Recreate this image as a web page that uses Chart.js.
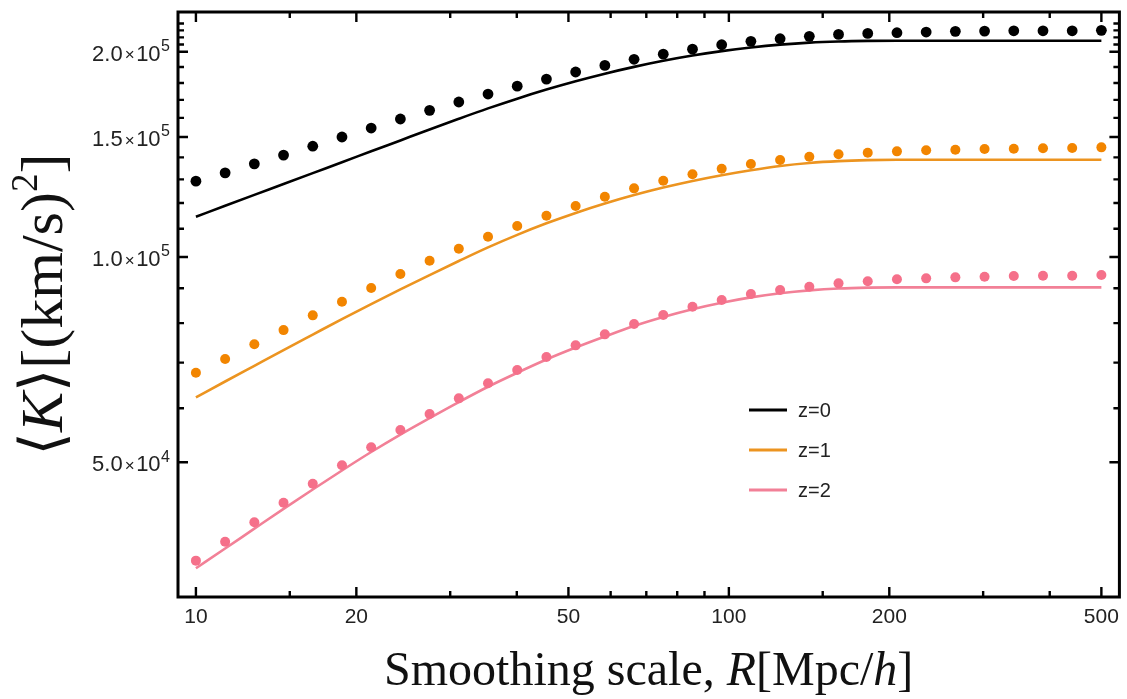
<!DOCTYPE html>
<html>
<head>
<meta charset="utf-8">
<script src="https://cdn.jsdelivr.net/npm/chart.js@4.4.1/dist/chart.umd.min.js"></script>
<style>
body { margin: 0; background: #fff; }
</style>
</head>
<body>
<canvas id="myChart" width="1127" height="699"></canvas>
<script>
// smoothing scale R [Mpc/h]
var rValues = [10, 11.345, 12.871, 14.602, 16.567, 18.795, 21.323, 24.191, 27.445, 31.137,
  35.325, 40.076, 45.467, 51.583, 58.521, 66.392, 75.323, 85.454, 96.948, 109.99,
  124.78, 141.57, 160.61, 182.21, 206.72, 234.53, 266.07, 301.86, 342.46, 388.53, 440.79, 500];

// <K> data points
var k0Dots = [129200, 132900, 137000, 141100, 145400, 150000, 154600, 159400, 164100, 168800,
  173400, 178100, 182400, 186800, 191000, 195000, 198400, 201800, 204800, 207200,
  209000, 210700, 212100, 212800, 213300, 213800, 214300, 214500, 214700, 214700, 214700, 215000];
var k1Dots = [67650, 70860, 74470, 78140, 82130, 85990, 90060, 94420, 98760, 102840,
  107100, 111040, 114970, 118790, 122560, 126100, 129390, 132230, 134750, 136900,
  138750, 140320, 141460, 142210, 142890, 143390, 143670, 144020, 144180, 144360, 144500, 144840];
var k2Dots = [35870, 38240, 40830, 43620, 46520, 49500, 52600, 55760, 58850, 62050,
  65280, 68270, 71340, 74210, 77020, 79770, 82220, 84550, 86480, 88250,
  89460, 90460, 91500, 92130, 92750, 93060, 93370, 93570, 93780, 93880, 93880, 94100];

// <K> theory curves
var k0Line = [114580, 118890, 123350, 127970, 132770, 137750, 142910, 148270, 153830, 159500,
  165200, 170730, 176040, 181060, 185750, 190070, 194010, 197480, 200450, 202910,
  204880, 206300, 207110, 207490, 207590, 207590, 207590, 207590, 207590, 207590, 207590, 207590];
var k1Line = [62260, 65690, 69270, 73040, 76970, 81100, 85310, 89660, 94100, 98670,
  103320, 107790, 112060, 116070, 119810, 123280, 126440, 129300, 131850, 134090,
  136020, 137400, 138260, 138710, 138870, 138870, 138870, 138870, 138870, 138870, 138870, 138870];
var k2Line = [34960, 37370, 39960, 42720, 45610, 48640, 51770, 54920, 58050, 61280,
  64540, 67650, 70750, 73660, 76460, 79220, 81660, 83840, 85700, 87260,
  88470, 89350, 89930, 90200, 90280, 90280, 90280, 90280, 90280, 90280, 90280, 90280];

var seriesLabels = ["z=0", "z=1", "z=2"];
var lineColors = ["#000000", "#ec9420", "#f28097"];
var dotColors = ["#000000", "#f28500", "#f5708a"];

// ticks
var xTicks = [10, 15, 20, 30, 40, 50, 60, 70, 80, 90, 100, 150, 200, 300, 400, 500];
var xMajor = [10, 20, 50, 100, 200, 500];
var yTicks = [50000, 60000, 70000, 80000, 90000, 100000, 110000, 120000, 130000, 140000, 150000,
  160000, 170000, 180000, 190000, 200000, 205000, 210000, 215000, 220000];
var yMajor = [50000, 100000, 150000, 200000];
var yMantissa = ["5.0", "1.0", "1.5", "2.0"];
var yExponent = ["4", "5", "5", "5"];

var SANS = '"Liberation Sans", Arial, sans-serif';
var SERIF = '"Liberation Serif", "DejaVu Serif", serif';

function pts(ys) {
  return rValues.map(function(r, i) { return { x: r, y: ys[i] }; });
}

var datasets = [];
[k0Line, k1Line, k2Line].forEach(function(s, i) {
  datasets.push({
    label: seriesLabels[i], data: pts(s), showLine: true,
    borderColor: lineColors[i], borderWidth: 2.6, pointRadius: 0,
    cubicInterpolationMode: 'monotone', order: 1
  });
});
[k0Dots, k1Dots, k2Dots].forEach(function(s, i) {
  datasets.push({
    label: seriesLabels[i] + ' data', data: pts(s), showLine: false,
    backgroundColor: dotColors[i], borderWidth: 0, pointRadius: i == 0 ? 5.4 : 5, order: 0
  });
});

// inward ticks + frame box
var frameTicks = {
  id: 'frameTicks',
  afterDatasetsDraw: function(chart) {
    var ctx = chart.ctx, a = chart.chartArea, x = chart.scales.x, y = chart.scales.y;
    ctx.save();
    ctx.strokeStyle = '#000';
    ctx.lineWidth = 2.4;
    ctx.beginPath();
    xTicks.forEach(function(v) {
      var p = x.getPixelForValue(v), len = xMajor.indexOf(v) >= 0 ? 10 : 6;
      ctx.moveTo(p, a.bottom); ctx.lineTo(p, a.bottom - len);
      ctx.moveTo(p, a.top); ctx.lineTo(p, a.top + len);
    });
    yTicks.forEach(function(v) {
      var p = y.getPixelForValue(v), len = yMajor.indexOf(v) >= 0 ? 10 : 6;
      ctx.moveTo(a.left, p); ctx.lineTo(a.left + len, p);
      ctx.moveTo(a.right, p); ctx.lineTo(a.right - len, p);
    });
    ctx.stroke();
    ctx.lineWidth = 3;
    ctx.strokeRect(a.left, a.top, a.right - a.left, a.bottom - a.top);
    ctx.restore();
  }
};

function runFont(r, size) {
  var s = r.sup ? size * 0.62 : size;
  return (r.it ? 'italic ' : '') + s + 'px ' + SERIF;
}
function runWidth(ctx, runs, size) {
  var w = 0;
  runs.forEach(function(r) { ctx.font = runFont(r, size); w += ctx.measureText(r.t).width; });
  return w;
}
function drawRuns(ctx, runs, size, x, y) {
  runs.forEach(function(r) {
    ctx.font = runFont(r, size);
    ctx.fillText(r.t, x, r.sup ? y - size * 0.42 : y);
    x += ctx.measureText(r.t).width;
  });
}

var xTitle = [{ t: 'Smoothing scale, ' }, { t: 'R', it: true }, { t: '[Mpc/' }, { t: 'h', it: true }, { t: ']' }];
var yTitle = [{ t: '\u27E8' }, { t: 'K', it: true }, { t: '\u27E9[(km/s)' }, { t: '2', sup: true }, { t: ']' }];

var labelsAndTitles = {
  id: 'labelsAndTitles',
  afterDraw: function(chart) {
    var ctx = chart.ctx, a = chart.chartArea, y = chart.scales.y;
    ctx.save();
    ctx.fillStyle = '#222';
    ctx.textBaseline = 'middle';
    ctx.textAlign = 'right';
    // y tick labels like 2.0×10^5
    yMajor.forEach(function(v, i) {
      var py = y.getPixelForValue(v) + 3;
      var xr = a.left - 8;
      ctx.font = '16px ' + SANS;
      ctx.fillText(yExponent[i], xr, py - 8);
      xr -= ctx.measureText(yExponent[i]).width + 0.5;
      ctx.font = '22px ' + SANS;
      ctx.fillText('10', xr, py);
      xr -= ctx.measureText('10').width + 1.5;
      ctx.font = '17px ' + SANS;
      ctx.fillText('\u00D7', xr, py + 1);
      xr -= ctx.measureText('\u00D7').width + 2;
      ctx.font = '22px ' + SANS;
      ctx.fillText(yMantissa[i], xr, py);
    });

    // legend
    var lineSets = chart.data.datasets.filter(function(d) { return d.showLine; });
    ctx.textAlign = 'left';
    ctx.font = '20px ' + SANS;
    lineSets.forEach(function(d, i) {
      var ry = a.top + 398 + i * 40;
      ctx.strokeStyle = d.borderColor;
      ctx.lineWidth = 3;
      ctx.beginPath();
      ctx.moveTo(a.left + 571, ry); ctx.lineTo(a.left + 609, ry);
      ctx.stroke();
      ctx.fillStyle = '#222';
      ctx.fillText(d.label, a.left + 620, ry + 1);
    });

    // axis titles
    ctx.fillStyle = '#111';
    ctx.textAlign = 'left';
    ctx.textBaseline = 'alphabetic';
    var xs = 48;
    var w = runWidth(ctx, xTitle, xs);
    drawRuns(ctx, xTitle, xs, (a.left + a.right) / 2 - w / 2, 685);

    var ys = 60;
    var wy = runWidth(ctx, yTitle, ys);
    ctx.translate(62, (a.top + a.bottom) / 2);
    ctx.rotate(-Math.PI / 2);
    drawRuns(ctx, yTitle, ys, -wy / 2, 0);
    ctx.restore();
  }
};

new Chart("myChart", {
  type: "scatter",
  data: { datasets: datasets },
  options: {
    responsive: false,
    animation: false,
    devicePixelRatio: 1,
    layout: { padding: { top: 12, right: 4, left: 0, bottom: 0 } },
    plugins: { legend: { display: false }, tooltip: { enabled: false } },
    scales: {
      x: {
        type: 'logarithmic',
        min: 9.255, max: 540.5,
        grid: { display: false, drawTicks: false },
        border: { display: false },
        afterBuildTicks: function(scale) {
          scale.ticks = xTicks.map(function(v) { return { value: v, major: xMajor.indexOf(v) >= 0 }; });
        },
        afterFit: function(scale) { scale.height = 102; },
        ticks: {
          autoSkip: false, maxRotation: 0, padding: 8,
          color: '#222', font: { family: SANS, size: 21 },
          callback: function(v) { return xMajor.indexOf(v) >= 0 ? String(v) : ''; }
        }
      },
      y: {
        type: 'logarithmic',
        min: 31727, max: 228760,
        grid: { display: false, drawTicks: false },
        border: { display: false },
        afterBuildTicks: function(scale) {
          scale.ticks = yTicks.map(function(v) { return { value: v }; });
        },
        afterFit: function(scale) { scale.width = 178; },
        ticks: { display: false }
      }
    }
  },
  plugins: [frameTicks, labelsAndTitles]
});
</script>
</body>
</html>
